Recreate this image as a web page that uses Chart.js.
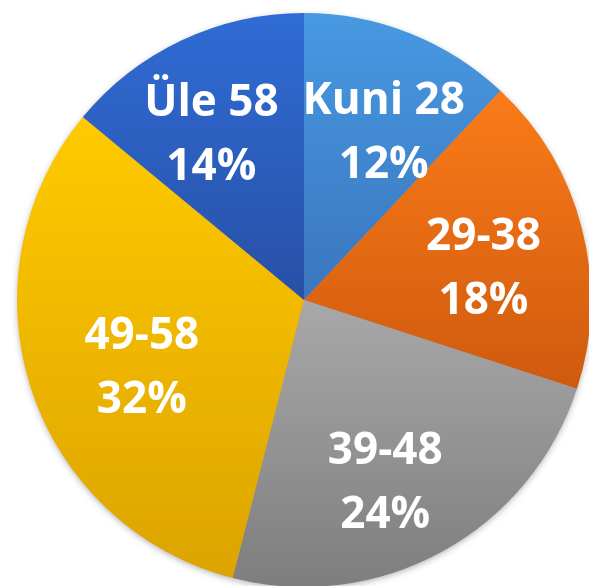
<!DOCTYPE html>
<html>
<head>
<meta charset="utf-8">
<script src="https://cdn.jsdelivr.net/npm/chart.js@4.4.1/dist/chart.umd.min.js"></script>
<style>
  html, body { margin: 0; padding: 0; background: #fff; overflow: hidden; }
  #wrap { position: absolute; left: 0; top: 0; width: 608px; height: 600px; }
</style>
</head>
<body>
<div id="wrap"><canvas id="pie"></canvas></div>
<script>
// ---------------- data ----------------
const categories = ["Kuni 28", "29-38", "39-48", "49-58", "Üle 58"];
const shares = [12, 18, 24, 32, 14];

// top / bottom colours of each slice (vertical gradient)
const topColors = ["#4799E2", "#FA7B18", "#A8A8A8", "#FFCA00", "#2F6CD5"];
const bottomColors = ["#3A76BE", "#CF5A0F", "#7E7E7E", "#DDA300", "#2850A6"];

// small nudges of the labels (px) like Excel's "best fit"
const labelNudge = [[10, 0], [-4, 7], [-10, 7], [18, 0], [-12, -3]];

// vertical extent of one slice, used for its gradient
function sliceRange(chart, i) {
  const a = chart.chartArea;
  const cx = (a.left + a.right) / 2, cy = (a.top + a.bottom) / 2;
  const r = Math.min(a.right - a.left, a.bottom - a.top) / 2;
  const total = shares.reduce((s, v) => s + v, 0);
  let before = 0;
  for (let k = 0; k < i; k++) before += shares[k];
  const s = -Math.PI / 2 + 2 * Math.PI * before / total;
  const e = s + 2 * Math.PI * shares[i] / total;
  const ys = [cy, cy + r * Math.sin(s), cy + r * Math.sin(e)];
  // does the slice pass the top or bottom point of the circle?
  [-Math.PI / 2, Math.PI / 2, 3 * Math.PI / 2].forEach(t => {
    if (t >= s && t <= e) ys.push(cy + r * Math.sin(t));
  });
  return [Math.min(...ys), Math.max(...ys)];
}

function sliceFill(context) {
  const chart = context.chart;
  const i = context.dataIndex;
  if (!chart.chartArea) return topColors[i];
  const [y0, y1] = sliceRange(chart, i);
  const g = chart.ctx.createLinearGradient(0, y0, 0, y1);
  g.addColorStop(0, topColors[i]);
  g.addColorStop(1, bottomColors[i]);
  return g;
}

// soft shadow under the whole pie
const pieShadow = {
  id: "pieShadow",
  beforeDatasetsDraw(chart) {
    const arc = chart.getDatasetMeta(0).data[0];
    if (!arc) return;
    const ctx = chart.ctx;
    ctx.save();
    ctx.shadowColor = "rgba(0,0,0,0.35)";
    ctx.shadowBlur = 7;
    ctx.shadowOffsetY = 2;
    ctx.fillStyle = "#999";
    ctx.beginPath();
    ctx.arc(arc.x, arc.y, arc.outerRadius - 1, 0, Math.PI * 2);
    ctx.fill();
    ctx.restore();
  }
};

// labels inside the slices: name + percent
const sliceLabels = {
  id: "sliceLabels",
  afterDatasetsDraw(chart) {
    const ctx = chart.ctx;
    const meta = chart.getDatasetMeta(0);
    ctx.save();
    ctx.fillStyle = "#fff";
    ctx.textAlign = "center";
    ctx.textBaseline = "middle";
    ctx.font = "bold 44px 'Open Sans', sans-serif";
    meta.data.forEach((arc, i) => {
      const mid = (arc.startAngle + arc.endAngle) / 2;
      const rr = arc.outerRadius * 0.66;
      const x = arc.x + Math.cos(mid) * rr + labelNudge[i][0];
      const y = arc.y + Math.sin(mid) * rr + 10 + labelNudge[i][1];
      ctx.fillText(categories[i], x, y - 32);
      ctx.fillText(shares[i] + "%", x, y + 32);
    });
    ctx.restore();
  }
};

new Chart(document.getElementById("pie").getContext("2d"), {
  type: "pie",
  data: {
    labels: categories,
    datasets: [{
      data: shares,
      backgroundColor: sliceFill,
      borderWidth: 0
    }]
  },
  options: {
    responsive: true,
    maintainAspectRatio: false,
    animation: false,
    layout: { padding: 13 },
    plugins: {
      legend: { display: false },
      tooltip: { enabled: false }
    }
  },
  plugins: [pieShadow, sliceLabels]
});
</script>
</body>
</html>
